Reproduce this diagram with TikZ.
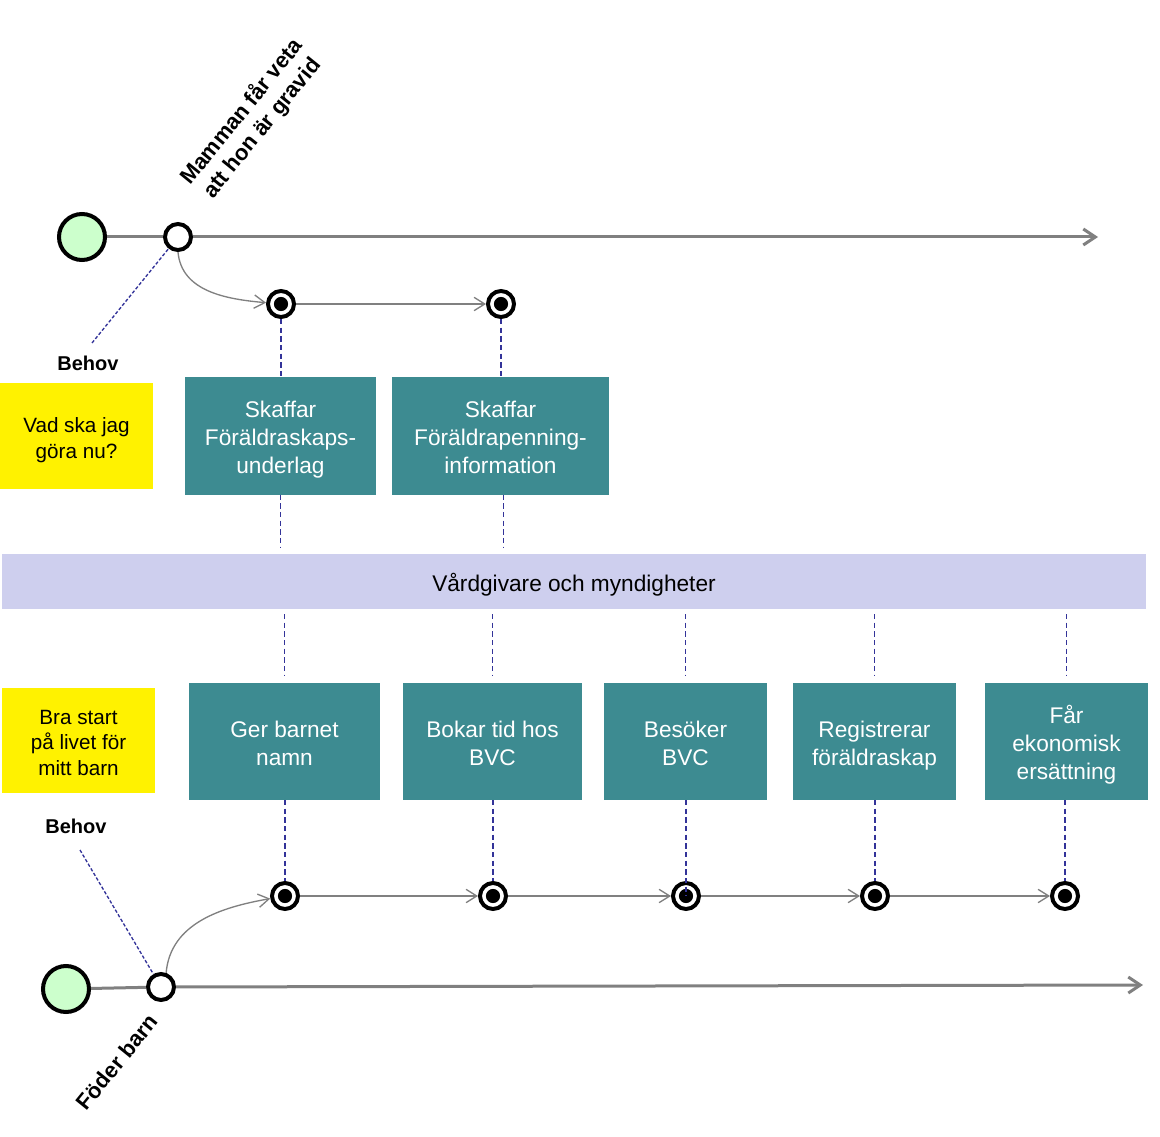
\documentclass[tikz,border=0pt]{standalone}
\usepackage{fontspec}
\setmainfont{Liberation Sans}
\usetikzlibrary{arrows.meta}
\definecolor{teal1}{RGB}{61,139,145}
\definecolor{bandc}{RGB}{206,207,238}
\definecolor{dblue}{RGB}{51,51,153}
\definecolor{lgray}{RGB}{128,128,128}
\definecolor{startg}{RGB}{204,255,204}
\newcommand\mytopstrut{\vrule width 0pt height \dimexpr0.7\baselineskip+6.5pt\relax depth 0pt}
\begin{document}
\begin{tikzpicture}[x=0.75pt,y=-0.75pt,
 tealbox/.style={fill=teal1, text=white, align=center, inner sep=0pt, outer sep=0pt, minimum height=87.75pt, font=\fontsize{17}{21}\selectfont},
 yellowbox/.style={fill=yellow, align=center, inner sep=0pt, outer sep=0pt, minimum width=114.75pt, minimum height=79pt, font=\fontsize{15.5}{19}\selectfont},
 startc/.style={circle, draw=black, line width=3pt, fill=startg, minimum size=34.5pt, inner sep=0pt},
 whitec/.style={circle, draw=black, line width=3pt, fill=white, minimum size=19.5pt, inner sep=0pt},
 evt/.style={circle, draw=black, line width=3pt, fill=white, minimum size=19.5pt, inner sep=0pt,
   path picture={\fill[black] (path picture bounding box.center) circle (5.3pt);}},
 mainline/.style={draw=lgray, line width=2.25pt},
 mainarr/.style={mainline, -{Straight Barb[length=9pt,width=12pt]}},
 thinarr/.style={draw=lgray, line width=1pt, -{Straight Barb[length=8pt,width=10pt]}},
 evdash/.style={draw=dblue, line width=1.3pt, dash pattern=on 4pt off 2.5pt},
 banddash/.style={draw=dblue, line width=0.8pt, dash pattern=on 4pt off 2.5pt},
 behovdash/.style={draw=dblue, line width=1pt, dash pattern=on 2.5pt off 1.5pt},
 behovlbl/.style={font=\bfseries\fontsize{15}{18}\selectfont, inner sep=0pt},
 rotlbl/.style={rotate=51, align=center, inner sep=0pt, font=\bfseries\fontsize{16.5}{19.5}\selectfont}
]
\useasboundingbox (0,0) rectangle (1160,1137);

% ---------- top timeline ----------
\node[startc] (st1) at (82,237) {};
\node[whitec] (wt1) at (178,237) {};
\coordinate (endt) at (1098,237);
\draw[mainline] (st1) -- (wt1);
\draw[mainarr] (wt1) -- (endt);
\node[rotlbl] (lbl1) at (252,120) {Mamman får veta\\att hon är gravid};

\node[evt] (e1) at (281,304) {};
\node[evt] (e2) at (501,304) {};
\draw[thinarr] (wt1.south) to[out=-85,in=175] (e1);
\draw[thinarr] (e1) -- (e2);

\node[behovlbl] (bh1) at (88,363) {Behov};
\coordinate (bh1c) at (92,343);
\draw[behovdash] (bh1c) -- (wt1);

\node[yellowbox, minimum height=79.5pt] (y1) at (76.5,436) {\mytopstrut Vad ska jag\\göra nu?\strut};
\node[tealbox, minimum width=143.25pt] (t1) at (280.5,436) {\mytopstrut Skaffar\\Föräldraskaps-\\underlag\strut};
\node[tealbox, minimum width=162.75pt] (t2) at (500.5,436) {\mytopstrut Skaffar\\Föräldrapenning-\\information\strut};

\draw[evdash] (e1) -- (e1 |- t1.north);
\draw[evdash] (e2) -- (e2 |- t2.north);

% ---------- band ----------
\node[fill=bandc, inner sep=0pt, outer sep=0pt, minimum width=858pt, minimum height=41.25pt,
      font=\fontsize{17}{21}\selectfont] (band) at (574,581.5) {\mytopstrut Vårdgivare och myndigheter\strut};

\draw[banddash, shorten >=5.25pt] (t1.south) -- (t1.south |- band.north);
\draw[banddash, shorten >=5.25pt] ([xshift=2pt]t2.south) -- ([xshift=2pt]t2.south |- band.north);

% ---------- bottom boxes ----------
\node[yellowbox, minimum height=78.75pt] (y2) at (78.5,740.5) {\mytopstrut Bra start\\på livet för\\mitt barn\strut};
\node[tealbox, minimum width=143.25pt] (b1) at (284.5,741.5) {\mytopstrut Ger barnet\\namn\strut};
\node[tealbox, minimum width=134.25pt] (b2) at (492.5,741.5) {\mytopstrut Bokar tid hos\\BVC\strut};
\node[tealbox, minimum width=122.25pt] (b3) at (685.5,741.5) {\mytopstrut Besöker\\BVC\strut};
\node[tealbox, minimum width=122.25pt] (b4) at (874.5,741.5) {\mytopstrut Registrerar\\föräldraskap\strut};
\node[tealbox, minimum width=122.25pt] (b5) at (1066.5,741.5) {\mytopstrut Får\\ekonomisk\\ersättning\strut};

\foreach \b in {b1,b2,b3,b4,b5}{
  \draw[banddash, shorten <=3.75pt, shorten >=6pt] (band.south -| \b.north) -- (\b.north);
}

% ---------- bottom timeline ----------
\node[evt] (f1) at (285,896) {};
\node[evt] (f2) at (493,896) {};
\node[evt] (f3) at (686,896) {};
\node[evt] (f4) at (875,896) {};
\node[evt] (f5) at (1065,896) {};

\draw[evdash] (b1.south -| f1) -- (f1);
\draw[evdash] (b2.south -| f2) -- (f2);
\draw[banddash] (b3.south -| f3) -- (f3.center);
\draw[evdash] (b4.south -| f4) -- (f4);
\draw[evdash] (b5.south -| f5) -- (f5);

\draw[thinarr] (f1) -- (f2);
\draw[thinarr] (f2) -- (f3);
\draw[thinarr] (f3) -- (f4);
\draw[thinarr] (f4) -- (f5);

\node[startc] (st2) at (66,989) {};
\node[whitec] (wb1) at (161,987) {};
\coordinate (endb) at (1143,985);
\draw[mainline] (st2) -- (wb1);
\draw[mainarr] (wb1) -- (endb);
\draw[thinarr] (wb1.70) to[out=85,in=-170] (f1);

\node[behovlbl] (bh2) at (76,826) {Behov};
\coordinate (bh2c) at (80,850);
\draw[behovdash] (bh2c) -- (wb1);

\node[rotlbl] (lbl2) at (117,1062) {Föder barn};
\end{tikzpicture}
\end{document}
